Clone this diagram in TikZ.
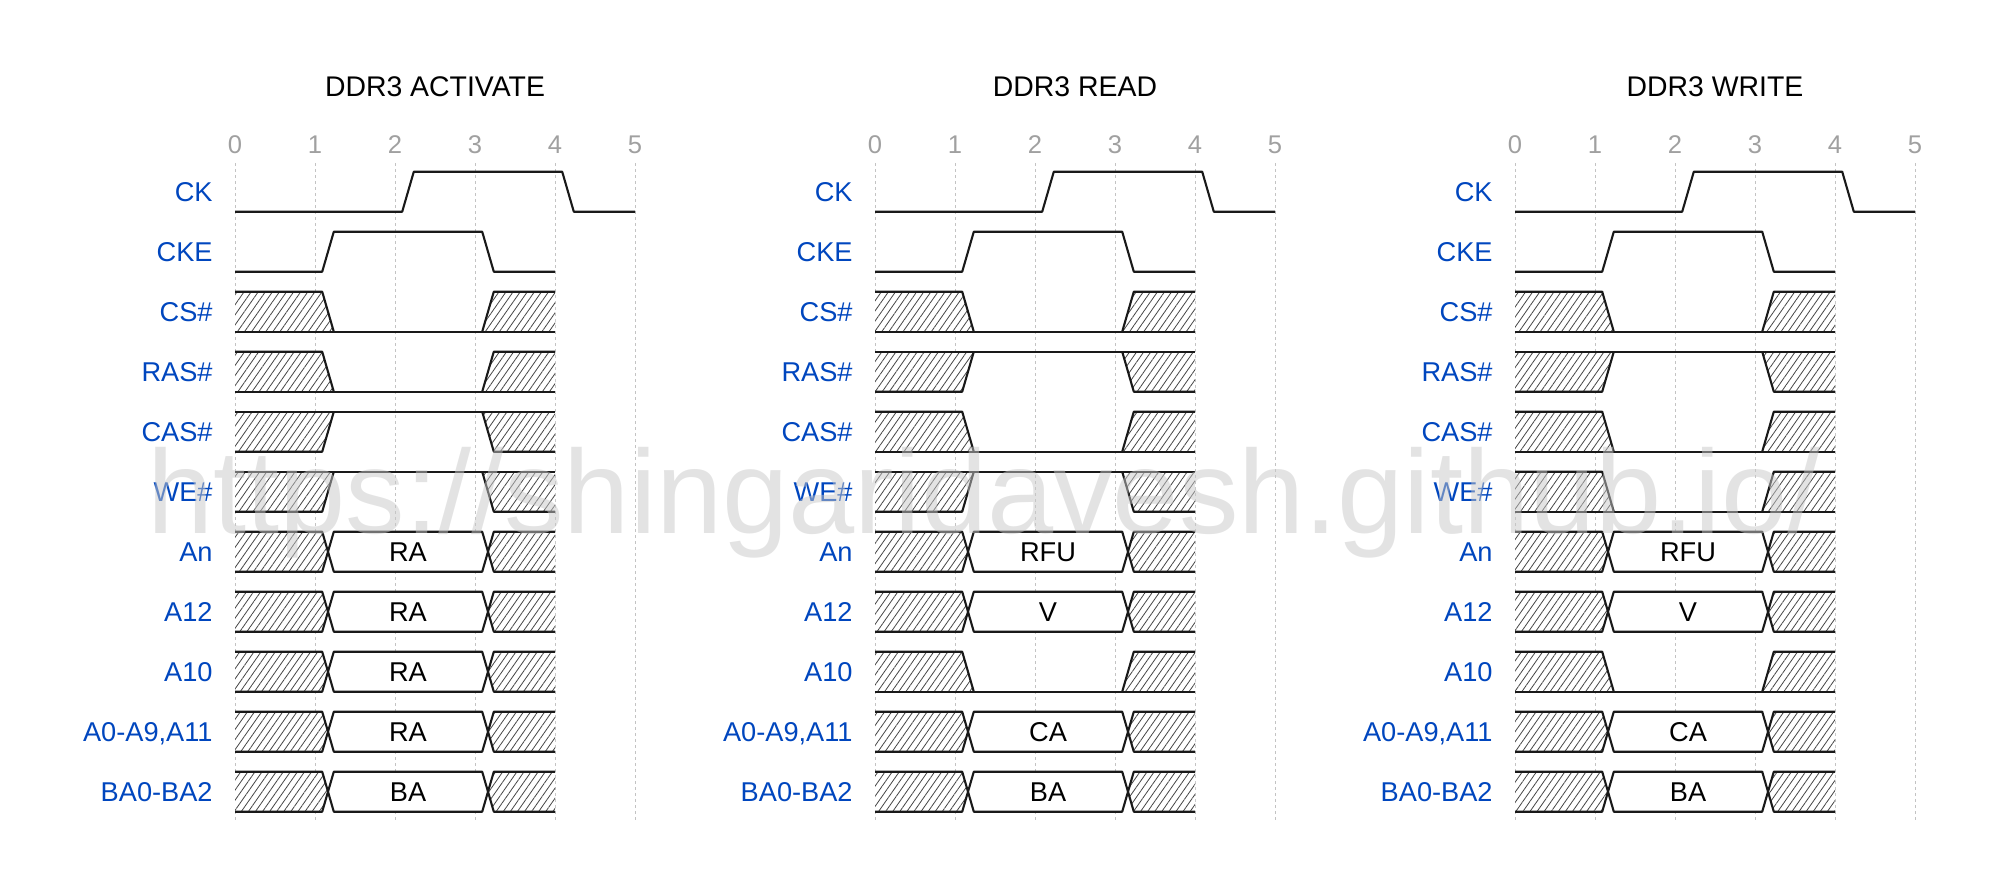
\documentclass[tikz,border=0pt]{standalone}
\usepackage{fontspec}
\setmainfont{Liberation Sans}
\usetikzlibrary{patterns.meta}
\definecolor{sigblue}{RGB}{0,70,190}
\definecolor{tickgray}{RGB}{160,160,160}
\definecolor{gridgray}{RGB}{195,195,195}
\definecolor{hatchgray}{RGB}{70,70,70}
\definecolor{wmgray}{RGB}{200,200,200}
\tikzset{
  wave/.style={line width=1.05pt, line join=round, black!90},
  hatchfill/.style={fill=white, postaction={pattern={Lines[angle=55,distance=2.9pt,line width=0.4pt]}, pattern color=hatchgray}},
  validfill/.style={fill=white},
  siglabel/.style={anchor=base east, text=sigblue, font=\fontsize{13.6}{16}\selectfont, inner sep=0pt},
  ticklabel/.style={anchor=base, text=tickgray, font=\fontsize{12.8}{15}\selectfont, inner sep=0pt},
  titletext/.style={anchor=base, font=\fontsize{14.2}{17}\selectfont, inner sep=0pt},
  datatext/.style={anchor=base, font=\fontsize{13.6}{16}\selectfont, inner sep=0pt},
  gridline/.style={gridgray, line width=0.5pt, dash pattern=on 1.5pt off 1.5pt},
  watermark/.style={anchor=base, text=wmgray, text opacity=0.5, font=\fontsize{59.5}{70}\selectfont, inner sep=0pt},
}
% row geometry (pixels): row top = 171.7 + 60*i, height 40
\newcommand\wvLow[2]{%
  \begin{scope}[shift={(#1,{171.7+60*#2})}]
    \fill[hatchfill] (0,0) -- (87.2,0) -- (98.8,40) -- (0,40) -- cycle;
    \fill[hatchfill] (247.2,40) -- (258.8,0) -- (320,0) -- (320,40) -- cycle;
    \draw[wave] (0,0) -- (87.2,0) -- (98.8,40);
    \draw[wave] (0,40) -- (320,40);
    \draw[wave] (247.2,40) -- (258.8,0) -- (320,0);
  \end{scope}}
\newcommand\wvHigh[2]{%
  \begin{scope}[shift={(#1,{171.7+60*#2})}]
    \fill[hatchfill] (0,40) -- (87.2,40) -- (98.8,0) -- (0,0) -- cycle;
    \fill[hatchfill] (247.2,0) -- (258.8,40) -- (320,40) -- (320,0) -- cycle;
    \draw[wave] (0,40) -- (87.2,40) -- (98.8,0);
    \draw[wave] (0,0) -- (320,0);
    \draw[wave] (247.2,0) -- (258.8,40) -- (320,40);
  \end{scope}}
\newcommand\wvBus[4]{% X0, row, text, node name
  \begin{scope}[shift={(#1,{171.7+60*#2})}]
    \fill[hatchfill] (0,0) -- (87.2,0) -- (93,20) -- (87.2,40) -- (0,40) -- cycle;
    \fill[hatchfill] (253,20) -- (258.8,0) -- (320,0) -- (320,40) -- (258.8,40) -- cycle;
    \fill[validfill] (93,20) -- (98.8,0) -- (247.2,0) -- (253,20) -- (247.2,40) -- (98.8,40) -- cycle;
    \draw[wave] (0,0) -- (87.2,0) -- (98.8,40) -- (247.2,40) -- (258.8,0) -- (320,0);
    \draw[wave] (0,40) -- (87.2,40) -- (98.8,0) -- (247.2,0) -- (258.8,40) -- (320,40);
    \node[datatext] (#4) at (173,30) {#3};
  \end{scope}}
\newcommand\wvClk[1]{%
  \begin{scope}[shift={(#1,171.7)}]
    \draw[wave] (0,40) -- (167.2,40) -- (178.8,0) -- (327.2,0) -- (338.8,40) -- (400,40);
  \end{scope}}
\newcommand\wvCke[1]{%
  \begin{scope}[shift={(#1,231.7)}]
    \draw[wave] (0,40) -- (87.2,40) -- (98.8,0) -- (247.2,0) -- (258.8,40) -- (320,40);
  \end{scope}}
\newcommand\panelFrame[3]{% X0, title, prefix
  \node[titletext] (#3title) at ({#1+200},96.7) {#2};
  \foreach \k in {0,...,5} {
    \draw[gridline] ({#1+80*\k},163) -- ({#1+80*\k},820);
    \node[ticklabel] (#3tick\k) at ({#1+80*\k},153.5) {\k};
  }
  \foreach \lab [count=\i from 0] in {CK,CKE,CS\#,RAS\#,CAS\#,WE\#,An,A12,A10,{A0-A9,A11},BA0-BA2} {
    \node[siglabel] (#3lab\i) at ({#1-22},{171.7+60*\i+30}) {\lab};
  }
  \wvClk{#1}
  \wvCke{#1}}
\begin{document}
\begin{tikzpicture}[x=0.5pt,y=-0.5pt]
\useasboundingbox (0,0) rectangle (1998,873);
% Panel 1: ACTIVATE
\panelFrame{235}{DDR3 ACTIVATE}{a}
\wvLow{235}{2}
\wvLow{235}{3}
\wvHigh{235}{4}
\wvHigh{235}{5}
\wvBus{235}{6}{RA}{aAn}
\wvBus{235}{7}{RA}{aA12}
\wvBus{235}{8}{RA}{aA10}
\wvBus{235}{9}{RA}{aAlo}
\wvBus{235}{10}{BA}{aBA}
% Panel 2: READ
\panelFrame{875}{DDR3 READ}{r}
\wvLow{875}{2}
\wvHigh{875}{3}
\wvLow{875}{4}
\wvHigh{875}{5}
\wvBus{875}{6}{RFU}{rAn}
\wvBus{875}{7}{V}{rA12}
\wvLow{875}{8}
\wvBus{875}{9}{CA}{rAlo}
\wvBus{875}{10}{BA}{rBA}
% Panel 3: WRITE
\panelFrame{1515}{DDR3 WRITE}{w}
\wvLow{1515}{2}
\wvHigh{1515}{3}
\wvLow{1515}{4}
\wvLow{1515}{5}
\wvBus{1515}{6}{RFU}{wAn}
\wvBus{1515}{7}{V}{wA12}
\wvLow{1515}{8}
\wvBus{1515}{9}{CA}{wAlo}
\wvBus{1515}{10}{BA}{wBA}
% watermark
\node[watermark] (wm) at (984,533) {https://shingaridavesh.github.io/};
\end{tikzpicture}
\end{document}
